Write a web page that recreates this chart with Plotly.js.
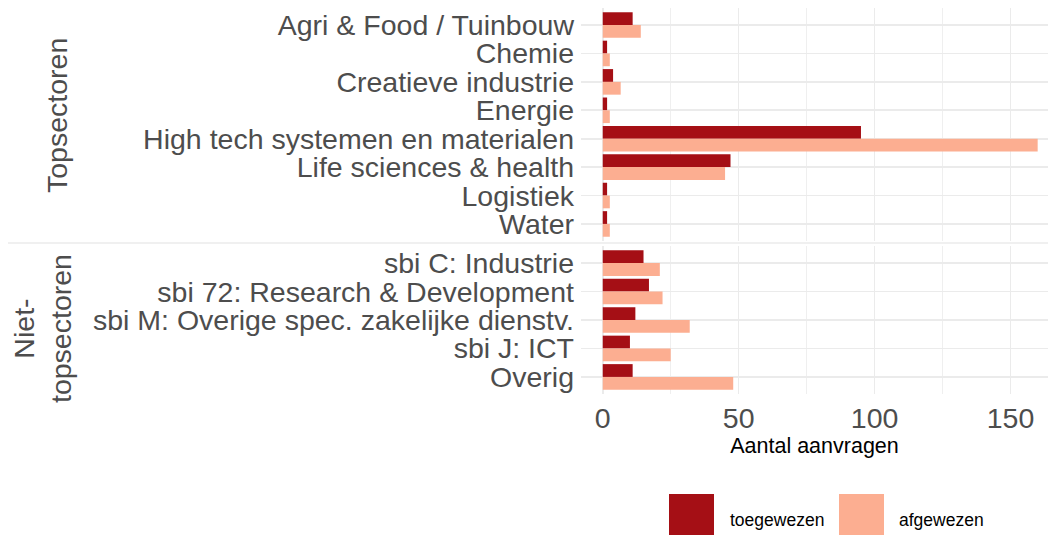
<!DOCTYPE html>
<html>
<head>
<meta charset="utf-8">
<script src="https://cdn.plot.ly/plotly-3.0.1.min.js"></script>
<style>html,body{margin:0;padding:0;background:#fff;}#chart{width:1048px;height:535px;}</style>
</head>
<body>
<div id="chart"></div>
<script>
// ---- data ----
const topCategories = ["Agri & Food / Tuinbouw", "Chemie", "Creatieve industrie", "Energie",
  "High tech systemen en materialen", "Life sciences & health", "Logistiek", "Water"];
const topToegewezen = [11, 1.6, 3.8, 1.6, 95, 47, 1.6, 1.6];
const topAfgewezen  = [14, 2.6, 6.6, 2.6, 160, 45, 2.6, 2.6];

const nietCategories = ["sbi C: Industrie", "sbi 72: Research & Development",
  "sbi M: Overige spec. zakelijke dienstv.", "sbi J: ICT", "Overig"];
const nietToegewezen = [15, 17, 12, 10, 11];
const nietAfgewezen  = [21, 22, 32, 25, 48];

const seriesNames = ["toegewezen", "afgewezen"];
const seriesColors = ["#A50F15", "#FCAE91"];
const xTickVals = [0, 50, 100, 150];
const facetLabels = ["Topsectoren", "Niet-<br>topsectoren"];

// ---- helpers (pixel -> paper) ----
const W = 1048, H = 535;
const px = v => v / W;
const py = v => 1 - v / H;

const traces = [
  {type: "bar", orientation: "h", name: seriesNames[0], x: topToegewezen, y: topCategories,
   xaxis: "x2", yaxis: "y", marker: {color: seriesColors[0]}, showlegend: false},
  {type: "bar", orientation: "h", name: seriesNames[1], x: topAfgewezen, y: topCategories,
   xaxis: "x2", yaxis: "y", marker: {color: seriesColors[1]}, showlegend: false},
  {type: "bar", orientation: "h", name: seriesNames[0], x: nietToegewezen, y: nietCategories,
   xaxis: "x", yaxis: "y2", marker: {color: seriesColors[0]}, showlegend: false},
  {type: "bar", orientation: "h", name: seriesNames[1], x: nietAfgewezen, y: nietCategories,
   xaxis: "x", yaxis: "y2", marker: {color: seriesColors[1]}, showlegend: false}
];

const FONT = "Liberation Sans, Arial, sans-serif";
const gridCol = "#EBEBEB";
const tickFont = {family: FONT, size: 28.5, color: "#4D4D4D"};
const xRange = [-8, 163.8];
const xDomain = [px(581), 1];

const xCommon = {
  domain: xDomain, range: xRange, tickvals: xTickVals, showgrid: true, gridcolor: gridCol,
  gridwidth: 1.6, zeroline: false, showline: false, ticks: "",
  minor: {tickvals: [25, 75, 125], showgrid: true, gridcolor: gridCol, gridwidth: 0.8},
  tickfont: tickFont
};

const yCommon = {
  type: "category", tickmode: "linear", dtick: 1, autorange: false,
  showgrid: true, gridcolor: gridCol, gridwidth: 1.6, ticks: "", zeroline: false,
  tickfont: tickFont, ticklabelstandoff: 6
};

const layout = {
  width: W, height: H,
  margin: {l: 0, r: 0, t: 0, b: 0},
  paper_bgcolor: "#fff", plot_bgcolor: "#fff",
  barmode: "group", bargap: 0.1, bargroupgap: 0,
  showlegend: false,
  font: {family: FONT},
  xaxis: Object.assign({}, xCommon, {
    anchor: "y2", ticklabelstandoff: 4,
    title: {text: "Aantal aanvragen", font: {family: FONT, size: 21.5, color: "#000"}, standoff: 5}
  }),
  xaxis2: Object.assign({}, xCommon, {anchor: "y", matches: "x", showticklabels: false}),
  yaxis: Object.assign({}, yCommon, {
    domain: [py(241), py(8)], range: [7.6, -0.6], anchor: "x2"
  }),
  yaxis2: Object.assign({}, yCommon, {
    domain: [py(394), py(246)], range: [4.6, -0.6], anchor: "x"
  }),
  shapes: [
    {type: "line", xref: "paper", yref: "paper", x0: px(8), x1: 1, y0: py(243), y1: py(243),
     line: {color: gridCol, width: 1.6}},
    {type: "rect", xref: "paper", yref: "paper", x0: px(669), x1: px(714), y0: py(494), y1: py(537),
     fillcolor: seriesColors[0], line: {width: 0}},
    {type: "rect", xref: "paper", yref: "paper", x0: px(839), x1: px(884), y0: py(494), y1: py(537),
     fillcolor: seriesColors[1], line: {width: 0}}
  ],
  annotations: [
    {text: facetLabels[0], xref: "paper", yref: "paper", x: px(57), y: py(116), textangle: -90,
     showarrow: false, xanchor: "center", yanchor: "middle", font: tickFont},
    {text: facetLabels[1], xref: "paper", yref: "paper", x: px(42), y: py(329), textangle: -90,
     showarrow: false, xanchor: "center", yanchor: "middle", font: tickFont},
    {text: seriesNames[0], xref: "paper", yref: "paper", x: px(728), y: py(520),
     showarrow: false, xanchor: "left", yanchor: "middle",
     font: {family: FONT, size: 17.5, color: "#000"}},
    {text: seriesNames[1], xref: "paper", yref: "paper", x: px(897), y: py(520),
     showarrow: false, xanchor: "left", yanchor: "middle",
     font: {family: FONT, size: 17.5, color: "#000"}}
  ]
};

Plotly.newPlot("chart", traces, layout, {displayModeBar: false, staticPlot: true});
</script>
</body>
</html>
